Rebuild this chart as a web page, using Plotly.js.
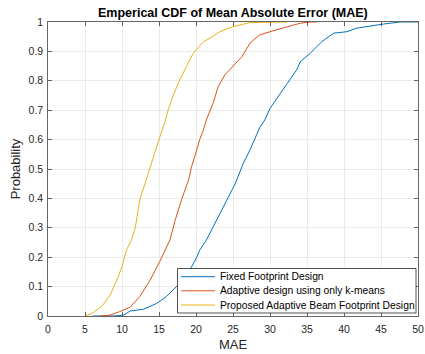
<!DOCTYPE html>
<html>
<head>
<meta charset="utf-8">
<script src="https://cdn.plot.ly/plotly-3.0.1.min.js"></script>
<style>html,body{margin:0;padding:0;background:#fff;}#chart{width:425px;height:354px;}</style>
</head>
<body>
<div id="chart"></div>
<script>
const seriesNames = ["Fixed Footprint Design", "Adaptive design using only k-means", "Proposed Adaptive Beam Footprint Design"];

const fixedX = [6.0, 8.8, 10.2, 11.1, 12.9, 14.7, 16.0, 17.4, 18.7, 20.1, 20.5, 21.4, 22.8, 24.1, 25.3, 26.4, 27.3, 28.6, 29.3, 30.0, 30.9, 32.3, 33.6, 34.1, 35.4, 37.0, 38.6, 40.4, 41.7, 44.4, 45.3, 47.6, 50.0];
const fixedY = [0, 0, 0.003, 0.017, 0.023, 0.043, 0.066, 0.1, 0.134, 0.2, 0.224, 0.258, 0.327, 0.395, 0.45, 0.52, 0.565, 0.64, 0.667, 0.706, 0.74, 0.79, 0.837, 0.865, 0.893, 0.933, 0.962, 0.967, 0.979, 0.99, 0.993, 1.0, 1.0];

const kmeansX = [7.0, 8.4, 9.7, 11.1, 12.4, 13.8, 15.1, 16.0, 16.5, 17.2, 18.1, 19.0, 19.4, 20.1, 20.5, 21.0, 21.4, 22.3, 23.0, 23.9, 25.0, 26.2, 27.3, 28.6, 30.4, 32.3, 34.1, 35.5, 36.3];
const kmeansY = [0, 0.003, 0.015, 0.03, 0.066, 0.122, 0.185, 0.235, 0.26, 0.327, 0.4, 0.463, 0.508, 0.565, 0.6, 0.633, 0.667, 0.723, 0.78, 0.82, 0.848, 0.882, 0.928, 0.956, 0.97, 0.984, 0.996, 1.0, 1.0];

const proposedX = [5.0, 6.1, 7.3, 8.4, 9.3, 10.0, 10.6, 11.3, 11.8, 12.4, 13.1, 13.8, 14.5, 15.0, 15.8, 16.3, 17.0, 17.8, 18.7, 19.6, 21.0, 21.9, 23.2, 25.0, 27.3, 32.3];
const proposedY = [0, 0.011, 0.034, 0.071, 0.122, 0.168, 0.224, 0.26, 0.3, 0.395, 0.45, 0.508, 0.559, 0.6, 0.66, 0.706, 0.755, 0.803, 0.848, 0.893, 0.933, 0.945, 0.967, 0.984, 0.998, 1.0];

const colors = ["#0072BD", "#D95319", "#EDB120"];
const xs = [fixedX, kmeansX, proposedX];
const ys = [fixedY, kmeansY, proposedY];

const traces = seriesNames.map((n, i) => ({
  x: xs[i], y: ys[i], name: n, type: "scatter", mode: "lines",
  line: {color: colors[i], width: 1}
}));

const FONT = "Liberation Sans, Arial, sans-serif";
const axisCommon = {
  showline: true, linecolor: "#262626", linewidth: 0.7, mirror: "ticks",
  ticks: "inside", ticklen: 4, tickcolor: "#262626", tickwidth: 0.7,
  showgrid: true, gridcolor: "#e3e3e3", gridwidth: 0.7, zeroline: false,
  tickfont: {family: FONT, size: 10.5, color: "#262626"}
};

// Legend box drawn in plot-area paper units (layout only, no data)
const plotW = 370, plotH = 294, plotL = 48, plotT = 22;
const px = p => (p - plotL) / plotW;
const py = p => (plotT + plotH - p) / plotH;
const legBox = {x0: 177.5, x1: 416, y0: 268.5, y1: 313};
const legRows = [276.7, 290.8, 305];
const shapes = [{type: "rect", xref: "paper", yref: "paper",
  x0: px(legBox.x0), x1: px(legBox.x1), y0: py(legBox.y1), y1: py(legBox.y0),
  fillcolor: "#fff", line: {color: "#262626", width: 0.8}, layer: "above"}];
const annotations = [];
seriesNames.forEach((n, i) => {
  shapes.push({type: "line", xref: "paper", yref: "paper",
    x0: px(181), x1: px(215), y0: py(legRows[i]), y1: py(legRows[i]),
    line: {color: colors[i], width: 1}, layer: "above"});
  annotations.push({xref: "paper", yref: "paper", x: px(218), y: py(legRows[i]),
    xanchor: "left", yanchor: "middle", showarrow: false, text: n,
    font: {family: FONT, size: 10.3, color: "#000"}});
});

const layout = {
  width: 425, height: 354,
  margin: {l: 48, r: 7, t: 22, b: 38},
  paper_bgcolor: "#fff", plot_bgcolor: "#fff",
  font: {family: FONT, color: "#262626"},
  title: {text: "<b>Emperical CDF of Mean Absolute Error (MAE)</b>", x: 0.548, xanchor: "center", y: 0.965, yanchor: "middle",
          font: {family: FONT, size: 12.5, color: "#000"}},
  xaxis: Object.assign({}, axisCommon, {range: [0, 50], dtick: 5, tick0: 0, ticklabelstandoff: 4,
    title: {text: "MAE", standoff: 5, font: {family: FONT, size: 13, color: "#262626"}}}),
  yaxis: Object.assign({}, axisCommon, {range: [0, 1], dtick: 0.1, tick0: 0, ticklabelstandoff: 2,
    title: {text: "Probability", standoff: 4, font: {family: FONT, size: 13, color: "#262626"}}}),
  showlegend: false,
  shapes: shapes,
  annotations: annotations
};

Plotly.newPlot("chart", traces, layout, {displayModeBar: false, staticPlot: true});
</script>
</body>
</html>
